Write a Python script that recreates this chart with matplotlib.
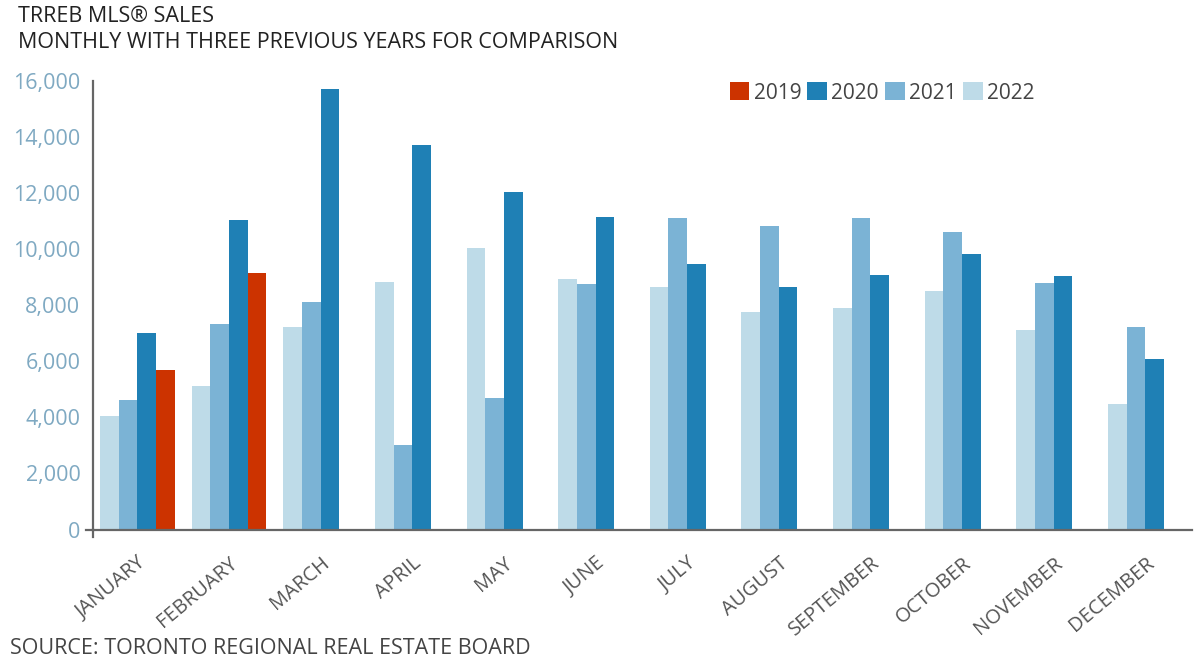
import matplotlib
matplotlib.use("Agg")
import matplotlib.pyplot as plt
from matplotlib.patches import Patch
from matplotlib.lines import Line2D
import numpy as np

months = ["JANUARY", "FEBRUARY", "MARCH", "APRIL", "MAY", "JUNE", "JULY",
          "AUGUST", "SEPTEMBER", "OCTOBER", "NOVEMBER", "DECEMBER"]
sales_2022 = [4040, 5110, 7230, 8840, 10030, 8920, 8640, 7760, 7890, 8520, 7120, 4470]
sales_2021 = [4630, 7340, 8120, 3010, 4680, 8750, 11100, 10840, 11100, 10610, 8810, 7210]
sales_2020 = [7010, 11030, 15700, 13720, 12030, 11160, 9460, 8660, 9070, 9820, 9040, 6080]
sales_2019 = [5700, 9160, None, None, None, None, None, None, None, None, None, None]
yticks = [0, 2000, 4000, 6000, 8000, 10000, 12000, 14000, 16000]

colors = {"2019": "#cc3300", "2020": "#1f80b5", "2021": "#7bb3d5", "2022": "#bedbe8"}

plt.rcParams['font.family'] = ['Open Sans', 'DejaVu Sans']

fig = plt.figure(figsize=(11.99, 6.65), dpi=100)
ax = fig.add_axes([93/1199, 1 - 529.5/665, (1192-93)/1199, (529.5-81)/665])

x = np.arange(len(months))
w = 0.204
series = [("2022", sales_2022), ("2021", sales_2021), ("2020", sales_2020), ("2019", sales_2019)]
for k, (name, vals) in enumerate(series):
    xs = [xi + (k - 1.5) * w for xi, v in zip(x, vals) if v is not None]
    vs = [v for v in vals if v is not None]
    ax.bar(xs, vs, width=w, color=colors[name], edgecolor='none', zorder=2)

ax.set_xlim(-0.485, 11.51)
ax.set_ylim(0, 16000)
ax.set_yticks(yticks)
ax.set_yticklabels([f"{t:,}" for t in yticks], color="#7fa9c2", fontsize=15.5)
ax.tick_params(axis='y', length=0, pad=9)
ax.set_xticks(x)
ax.set_xticklabels(months, rotation=40, ha='right', rotation_mode='anchor',
                   color="#555555", fontsize=14.5)
ax.tick_params(axis='x', length=0, pad=17)

for s in ['top', 'right']:
    ax.spines[s].set_visible(False)
for s in ['left', 'bottom']:
    ax.spines[s].set_color('#666666')
    ax.spines[s].set_linewidth(1.6)

# small extensions of the axes crossing at zero
ax.add_line(Line2D([0, 0], [-0.017, 0], transform=ax.transAxes, color='#666666',
                   lw=1.6, clip_on=False))
ax.add_line(Line2D([-0.0065, 0], [0, 0], transform=ax.transAxes, color='#666666',
                   lw=1.6, clip_on=False))

handles = [Patch(facecolor=colors[n], edgecolor='none', label=n) for n in ["2019", "2020", "2021", "2022"]]
leg = fig.legend(handles=handles, loc='center', bbox_to_anchor=(882/1199, 1 - 93/665),
                 ncol=4, frameon=False, fontsize=15, handlelength=0.95, handleheight=0.95,
                 handletextpad=0.2, columnspacing=0.3, borderpad=0)
for t in leg.get_texts():
    t.set_color('#444444')

fig.text(18/1199, 1 - 17/665, "TRREB MLS® SALES", fontsize=15.5, color='#222222', va='center', ha='left')
fig.text(18/1199, 1 - 42/665, "MONTHLY WITH THREE PREVIOUS YEARS FOR COMPARISON", fontsize=15.5,
         color='#222222', va='center', ha='left')
fig.text(10/1199, 1 - 648/665, "SOURCE: TORONTO REGIONAL REAL ESTATE BOARD", fontsize=15.5,
         color='#444444', va='center', ha='left')

fig.savefig("out.png", dpi=100, facecolor='white')
